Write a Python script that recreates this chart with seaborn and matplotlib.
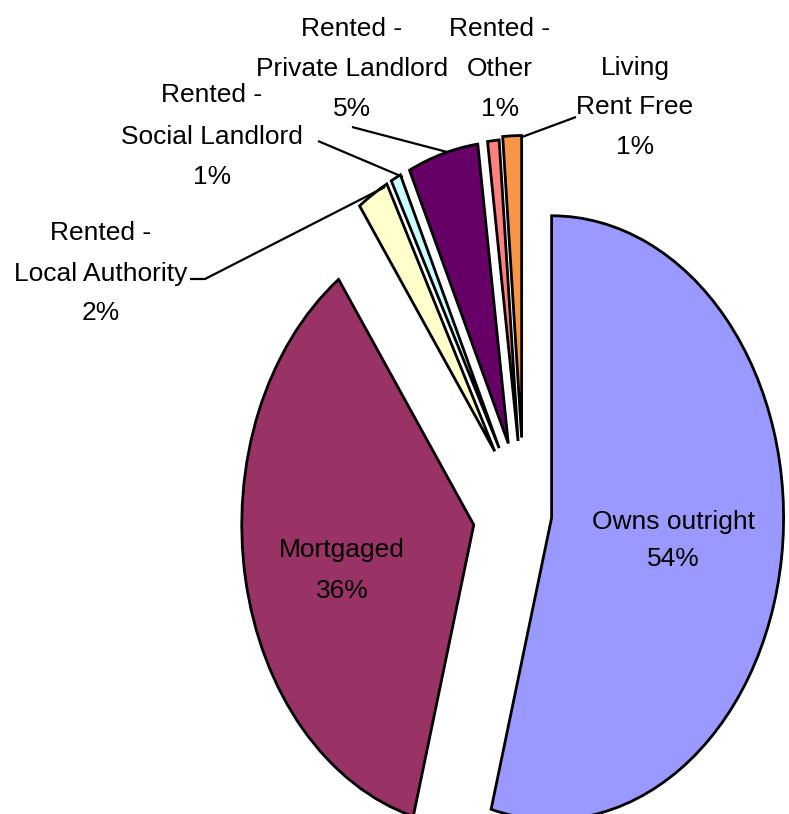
import matplotlib
matplotlib.use("Agg")
import matplotlib.pyplot as plt
import seaborn as sns

categories = ["Owns outright", "Mortgaged", "Rented -\nLocal Authority",
              "Rented -\nSocial Landlord", "Rented -\nPrivate Landlord",
              "Rented -\nOther", "Living\nRent Free"]
values = [54.2, 35.9, 2.2, 0.7, 4.9, 0.8, 1.3]
pct_labels = ["54%", "36%", "2%", "1%", "5%", "1%", "1%"]
colors = ["#9999FF", "#993366", "#FFFFCC", "#CCFFFF", "#660066", "#FF8080", "#F79646"]
explode = [0.12, 0.22, 0.24, 0.24, 0.24, 0.24, 0.25]

sns.set_theme(style="white")
plt.rcParams["font.family"] = ["Liberation Sans", "DejaVu Sans"]

W, H = 789, 814
fig = plt.figure(figsize=(W / 100, H / 100), dpi=100)
ax = fig.add_axes([0, 0, 1, 1])

pal = sns.color_palette(colors)
ax.pie(values, colors=pal, explode=explode, startangle=90, counterclock=False,
       wedgeprops=dict(edgecolor="black", linewidth=2.0), radius=1.0)

# pixel -> data mapping (elliptical pie)
CX, CY, RX, RY = 524.0, 513.0, 232.0, 302.0
ax.set_aspect("auto")
ax.set_xlim(-CX / RX, (W - CX) / RX)
ax.set_ylim((CY - H) / RY, CY / RY)
ax.axis("off")

def d(px, py):
    return ((px - CX) / RX, (CY - py) / RY)

fs = 19
# label positions (pixel centres), line pitch and optional leader lines
label_pos = [(673, 538), (342, 568), (101, 271), (212, 134), (352, 67), (500, 67), (635, 105)]
pitch = [37, 40, 40, 41, 40, 40, 40]
leaders = [None, None,
           [(190, 279), (205, 279), (385, 187)],
           [(318, 141), (403, 177)],
           [(352, 127), (447, 152)],
           None,
           [(576, 117), (522, 137)]]

for cat, pct, pos, ld, p in zip(categories, pct_labels, label_pos, leaders, pitch):
    lines = f"{cat}\n{pct}".split("\n")
    n = len(lines)
    for i, line in enumerate(lines):
        y = pos[1] + (i - (n - 1) / 2) * p
        ax.text(*d(pos[0], y), line, ha="center", va="center_baseline",
                fontsize=fs, color="black")
    if ld:
        xs, ys = zip(*[d(*q) for q in ld])
        ax.plot(xs, ys, color="black", lw=1.6, solid_capstyle="butt")

fig.savefig("out.png", dpi=100)
